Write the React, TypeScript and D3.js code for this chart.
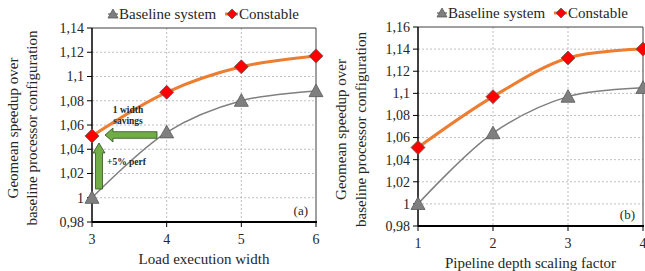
import React from "react";
import * as d3 from "d3";

const loadWidths = [3, 4, 5, 6];
const baselineA = [1.0, 1.054, 1.08, 1.088];
const constableA = [1.051, 1.087, 1.108, 1.117];
const yTicksA = [0.98, 1.0, 1.02, 1.04, 1.06, 1.08, 1.1, 1.12, 1.14];

const depthFactors = [1, 2, 3, 4];
const baselineB = [1.0, 1.064, 1.097, 1.105];
const constableB = [1.051, 1.097, 1.132, 1.14];
const yTicksB = [0.98, 1.0, 1.02, 1.04, 1.06, 1.08, 1.1, 1.12, 1.14, 1.16];

const seriesNames = ["Baseline system", "Constable"];
const yTitle = ["Geomean speedup over", "baseline processor configuration"];

const FONT = "'Liberation Serif', 'Times New Roman', serif";
const GRAY = "#7f7f7f";
const ORANGE = "#ED7D31";
const RED = "#FF0000";
const GREEN = "#70AD47";

const fmt = (v: number) => {
  const s = String(+v.toFixed(2));
  return s.replace(".", ",");
};

function Triangle({ x, y, s = 7 }: { x: number; y: number; s?: number }) {
  return (
    <path
      d={`M${x},${y - s} L${x + s},${y + s * 0.8} L${x - s},${y + s * 0.8} Z`}
      fill={GRAY}
      stroke="#595959"
      strokeWidth={0.8}
    />
  );
}

function Diamond({ x, y, s = 7 }: { x: number; y: number; s?: number }) {
  return (
    <path
      d={`M${x},${y - s} L${x + s},${y} L${x},${y + s} L${x - s},${y} Z`}
      fill={RED}
      stroke="#595959"
      strokeWidth={0.8}
    />
  );
}

type PanelProps = {
  xs: number[];
  base: number[];
  cons: number[];
  yTicks: number[];
  x0: number;
  x1: number;
  y0: number;
  y1: number;
  xTitle: string;
  tag: string;
  titleX: [number, number];
  legendX: number;
  legendY: number;
  children?: React.ReactNode;
};

function Panel(p: PanelProps) {
  const x = d3.scaleLinear().domain([p.xs[0], p.xs[p.xs.length - 1]]).range([p.x0, p.x1]);
  const y = d3
    .scaleLinear()
    .domain([p.yTicks[0], p.yTicks[p.yTicks.length - 1]])
    .range([p.y1, p.y0]);
  const line = d3
    .line<number>()
    .x((_, i) => x(p.xs[i]))
    .y((d) => y(d))
    .curve(d3.curveCatmullRom.alpha(0.5));
  const midY = (p.y0 + p.y1) / 2 + 3;
  const lx = p.legendX;
  const ly = p.legendY;
  return (
    <g fontFamily={FONT}>
      {p.yTicks.slice(1, -1).map((t) => (
        <line key={"h" + t} x1={p.x0} x2={p.x1} y1={y(t)} y2={y(t)} stroke="#bfbfbf" strokeDasharray="2,2" strokeWidth={1} />
      ))}
      {p.xs.slice(1, -1).map((t) => (
        <line key={"v" + t} x1={x(t)} x2={x(t)} y1={p.y0} y2={p.y1} stroke="#bfbfbf" strokeDasharray="2,2" strokeWidth={1} />
      ))}
      <path d={`M${p.x0},${p.y0} H${p.x1} V${p.y1}`} fill="none" stroke="#404040" strokeWidth={1} />
      <line x1={p.x0} x2={p.x0} y1={p.y0} y2={p.y1} stroke="#000" strokeWidth={1.5} />
      <line x1={p.x0} x2={p.x1 + 1} y1={p.y1} y2={p.y1} stroke="#000" strokeWidth={2} />
      {p.yTicks.map((t) => (
        <g key={"yt" + t}>
          <line x1={p.x0 - 5} x2={p.x0} y1={y(t)} y2={y(t)} stroke="#000" strokeWidth={1} />
          <text x={p.x0 - 8} y={y(t)} dy="0.35em" textAnchor="end" fontSize={14} fill="#262626">
            {fmt(t)}
          </text>
        </g>
      ))}
      {p.xs.map((t) => (
        <g key={"xt" + t}>
          <line x1={x(t)} x2={x(t)} y1={p.y1} y2={p.y1 + 5} stroke="#000" strokeWidth={1} />
          <text x={x(t)} y={p.y1 + 17} dy="0.35em" textAnchor="middle" fontSize={14} fill="#262626">
            {t}
          </text>
        </g>
      ))}
      <text x={(p.x0 + p.x1) / 2} y={p.y1 + 37} dy="0.35em" textAnchor="middle" fontSize={15} fill="#262626">
        {p.xTitle}
      </text>
      {yTitle.map((s, i) => (
        <text
          key={s}
          transform={`translate(${p.titleX[i]},${midY}) rotate(-90)`}
          dy="0.35em"
          textAnchor="middle"
          fontSize={15}
          fill="#262626"
        >
          {s}
        </text>
      ))}
      <text x={p.x1 - 8} y={p.y1 - 12} dy="0.35em" textAnchor="end" fontSize={13} fill="#262626">
        {p.tag}
      </text>
      <path d={line(p.base) || ""} fill="none" stroke={GRAY} strokeWidth={1.5} />
      <path d={line(p.cons) || ""} fill="none" stroke={ORANGE} strokeWidth={3} />
      {p.children}
      {p.base.map((v, i) => (
        <Triangle key={"b" + i} x={x(p.xs[i])} y={y(v)} />
      ))}
      {p.cons.map((v, i) => (
        <Diamond key={"c" + i} x={x(p.xs[i])} y={y(v)} />
      ))}
      <line x1={lx - 5} x2={lx + 5} y1={ly} y2={ly} stroke={GRAY} strokeWidth={1.5} />
      <Triangle x={lx} y={ly} s={5} />
      <text x={lx + 6} y={ly} dy="0.35em" fontSize={15} fill="#262626">
        {seriesNames[0]}
      </text>
      <line x1={lx + 112} x2={lx + 125} y1={ly} y2={ly} stroke={ORANGE} strokeWidth={3} />
      <Diamond x={lx + 119} y={ly} s={5} />
      <text x={lx + 126} y={ly} dy="0.35em" fontSize={15} fill="#262626">
        {seriesNames[1]}
      </text>
    </g>
  );
}

function Annotations() {
  return (
    <g fontFamily={FONT}>
      <path
        d="M105,135 L113,128 L113,131.7 L157,131.7 L157,138.3 L113,138.3 L113,142 Z"
        fill={GREEN}
        stroke="#2f4f1f"
        strokeWidth={0.8}
      />
      <path
        d="M99,143 L105,153 L102.5,153 L102.5,189 L95.5,189 L95.5,153 L93,153 Z"
        fill={GREEN}
        stroke="#2f4f1f"
        strokeWidth={0.8}
      />
      <text x={128} y={110} dy="0.35em" textAnchor="middle" fontSize={9.5} fontWeight="bold" fill="#262626">
        1 width
      </text>
      <text x={128} y={121} dy="0.35em" textAnchor="middle" fontSize={9.5} fontWeight="bold" fill="#262626">
        savings
      </text>
      <text x={107} y={162} dy="0.35em" fontSize={9.5} fontWeight="bold" fill="#262626">
        +5% perf
      </text>
    </g>
  );
}

export default function App() {
  return (
    <svg
      width={645}
      height={271}
      viewBox="0 0 645 271"
      style={{ position: "absolute", left: 0, top: 0, background: "#fff" }}
    >
      <rect width={645} height={271} fill="#fff" />
      <Panel
        xs={loadWidths}
        base={baselineA}
        cons={constableA}
        yTicks={yTicksA}
        x0={92}
        x1={316}
        y0={28}
        y1={222}
        xTitle="Load execution width"
        tag="(a)"
        titleX={[13, 32]}
        legendX={113}
        legendY={14}
      >
        <Annotations />
      </Panel>
      <Panel
        xs={depthFactors}
        base={baselineB}
        cons={constableB}
        yTicks={yTicksB}
        x0={418}
        x1={643}
        y0={27}
        y1={226}
        xTitle="Pipeline depth scaling factor"
        tag="(b)"
        titleX={[341, 361]}
        legendX={442}
        legendY={13}
      />
    </svg>
  );
}
